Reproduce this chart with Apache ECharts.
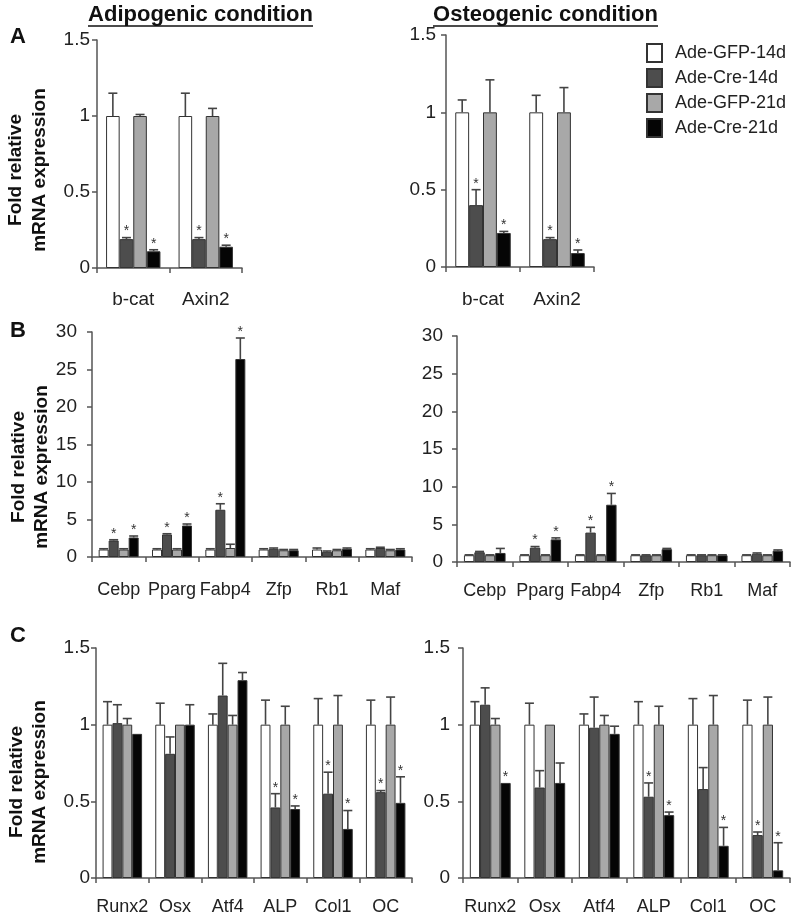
<!DOCTYPE html>
<html><head><meta charset="utf-8">
<script src="https://cdn.jsdelivr.net/npm/echarts@6/dist/echarts.min.js"></script>
<style>html,body{margin:0;padding:0;background:#fff}#c{width:800px;height:924px}</style>
</head><body><div id="c"></div>
<script>
const FONT = '"Liberation Sans", Arial, sans-serif';
const seriesNames = ['Ade-GFP-14d', 'Ade-Cre-14d', 'Ade-GFP-21d', 'Ade-Cre-21d'];
const catsA = ['b-cat', 'Axin2'];
const catsB = ['Cebp', 'Pparg', 'Fabp4', 'Zfp', 'Rb1', 'Maf'];
const catsC = ['Runx2', 'Osx', 'Atf4', 'ALP', 'Col1', 'OC'];
const yTicksA = [0, 0.5, 1, 1.5];
const yTicksB = [0, 5, 10, 15, 20, 25, 30];
const yTicksC = [0, 0.5, 1, 1.5];

// Panel A, adipogenic: rows = GFP-14d, Cre-14d, GFP-21d, Cre-21d
const aAdipoMean = [[1, 1], [0.19, 0.19], [1, 1], [0.11, 0.14]];
const aAdipoSD   = [[0.15, 0.15], [0.01, 0.01], [0.01, 0.05], [0.01, 0.01]];
const aAdipoStar = [[0, 0], [1, 1], [0, 0], [1, 1]];
// Panel A, osteogenic
const aOsteoMean = [[1, 1], [0.40, 0.18], [1, 1], [0.22, 0.09]];
const aOsteoSD   = [[0.08, 0.11], [0.10, 0.01], [0.21, 0.16], [0.01, 0.02]];
const aOsteoStar = [[0, 0], [1, 1], [0, 0], [1, 1]];
// Panel B, adipogenic
const bAdipoMean = [[1, 1, 1, 1, 1, 1], [2.2, 3.0, 6.3, 1.1, 0.7, 1.2], [1, 1, 1.2, 0.9, 0.9, 0.9], [2.6, 4.2, 26.4, 0.9, 1.1, 1.0]];
const bAdipoSD   = [[0.1, 0.1, 0.1, 0.1, 0.2, 0.1], [0.1, 0.1, 0.8, 0.1, 0.1, 0.1], [0.1, 0.1, 0.5, 0.1, 0.1, 0.1], [0.2, 0.2, 2.8, 0.1, 0.1, 0.1]];
const bAdipoStar = [[0, 0, 0, 0, 0, 0], [1, 1, 1, 0, 0, 0], [0, 0, 0, 0, 0, 0], [1, 1, 1, 0, 0, 0]];
// Panel B, osteogenic
const bOsteoMean = [[0.9, 0.9, 0.9, 0.9, 0.9, 0.9], [1.3, 1.9, 3.9, 0.9, 0.9, 1.1], [0.9, 0.9, 0.9, 0.9, 0.9, 0.9], [1.2, 3.0, 7.6, 1.7, 0.9, 1.5]];
const bOsteoSD   = [[0.05, 0.05, 0.05, 0.05, 0.05, 0.05], [0.1, 0.15, 0.7, 0.05, 0.05, 0.1], [0.05, 0.05, 0.05, 0.05, 0.05, 0.05], [0.6, 0.2, 1.5, 0.1, 0.05, 0.1]];
const bOsteoStar = [[0, 0, 0, 0, 0, 0], [0, 1, 1, 0, 0, 0], [0, 0, 0, 0, 0, 0], [0, 1, 1, 0, 0, 0]];
// Panel C, adipogenic
const cAdipoMean = [[1, 1, 1, 1, 1, 1], [1.01, 0.81, 1.19, 0.46, 0.55, 0.56], [1, 1, 1, 1, 1, 1], [0.94, 1.0, 1.29, 0.45, 0.32, 0.49]];
const cAdipoSD   = [[0.15, 0.14, 0.07, 0.16, 0.17, 0.16], [0.12, 0.11, 0.21, 0.09, 0.14, 0.01], [0.04, 0, 0.06, 0.12, 0.19, 0.18], [0, 0.13, 0.05, 0.02, 0.12, 0.17]];
const cAdipoStar = [[0, 0, 0, 0, 0, 0], [0, 0, 0, 1, 1, 1], [0, 0, 0, 0, 0, 0], [0, 0, 0, 1, 1, 1]];
// Panel C, osteogenic
const cOsteoMean = [[1, 1, 1, 1, 1, 1], [1.13, 0.59, 0.98, 0.53, 0.58, 0.28], [1, 1, 1, 1, 1, 1], [0.62, 0.62, 0.94, 0.41, 0.21, 0.05]];
const cOsteoSD   = [[0.15, 0.14, 0.07, 0.15, 0.17, 0.16], [0.11, 0.11, 0.2, 0.09, 0.14, 0.02], [0.04, 0, 0.06, 0.12, 0.19, 0.18], [0, 0.13, 0.05, 0.02, 0.12, 0.18]];
const cOsteoStar = [[0, 0, 0, 0, 0, 0], [0, 0, 0, 1, 0, 1], [0, 0, 0, 0, 0, 0], [1, 0, 0, 1, 1, 1]];

const fills = ['#ffffff', '#4d4d4d', '#a8a8a8', '#050505'];
const GAP = 0.25;

const panels = [
  {cats: catsA, mean: aAdipoMean, sd: aAdipoSD, star: aAdipoStar, ticks: yTicksA, grid: {left: 97, top: 40, width: 145, height: 228}, lm: 7, cm: 22, cf: 19},
  {cats: catsA, mean: aOsteoMean, sd: aOsteoSD, star: aOsteoStar, ticks: yTicksA, grid: {left: 446, top: 35, width: 148, height: 232}, lm: 10, cm: 23, cf: 19},
  {cats: catsB, mean: bAdipoMean, sd: bAdipoSD, star: bAdipoStar, ticks: yTicksB, grid: {left: 92, top: 332, width: 320, height: 225}, lm: 15, cm: 24, cf: 18},
  {cats: catsB, mean: bOsteoMean, sd: bOsteoSD, star: bOsteoStar, ticks: yTicksB, grid: {left: 457, top: 336, width: 333, height: 226}, lm: 14, cm: 20, cf: 18},
  {cats: catsC, mean: cAdipoMean, sd: cAdipoSD, star: cAdipoStar, ticks: yTicksC, grid: {left: 96, top: 648, width: 316, height: 230}, lm: 6, cm: 20, cf: 18},
  {cats: catsC, mean: cOsteoMean, sd: cOsteoSD, star: cOsteoStar, ticks: yTicksC, grid: {left: 463, top: 648, width: 327, height: 230}, lm: 13, cm: 20, cf: 18}
];

const grids = [], xAxes = [], yAxes = [], series = [];
panels.forEach((p, pi) => {
  grids.push(Object.assign({containLabel: false}, p.grid));
  xAxes.push({
    type: 'category', gridIndex: pi, data: p.cats,
    axisLine: {lineStyle: {color: '#555', width: 1.5}},
    axisTick: {show: true, length: 5, inside: false, lineStyle: {color: '#555', width: 1.5}},
    axisLabel: {margin: p.cm, fontSize: p.cf, color: '#222', fontFamily: FONT, interval: 0}
  });
  yAxes.push({
    type: 'value', gridIndex: pi, min: p.ticks[0], max: p.ticks[p.ticks.length - 1],
    interval: p.ticks[1] - p.ticks[0],
    axisLine: {show: true, lineStyle: {color: '#555', width: 1.5}},
    axisTick: {show: true, length: 5, lineStyle: {color: '#555', width: 1.5}},
    splitLine: {show: false},
    axisLabel: {margin: p.lm, fontSize: 19, color: '#222', fontFamily: FONT}
  });
  for (let s = 0; s < 4; s++) {
    series.push({
      type: 'bar', name: seriesNames[s], xAxisIndex: pi, yAxisIndex: pi,
      data: p.mean[s], barGap: '0%', barCategoryGap: (GAP * 100) + '%',
      itemStyle: {color: fills[s], borderColor: '#333', borderWidth: 1},
      emphasis: {disabled: true}, silent: true
    });
  }
  const errData = [];
  for (let s = 0; s < 4; s++) {
    for (let c = 0; c < p.cats.length; c++) {
      errData.push([c, s, p.mean[s][c], p.mean[s][c] + p.sd[s][c], p.star[s][c]]);
    }
  }
  series.push({
    type: 'custom', xAxisIndex: pi, yAxisIndex: pi, z: 5, silent: true,
    encode: {x: 0, y: 3},
    data: errData,
    renderItem: function (params, api) {
      const ci = api.value(0), s = api.value(1), v = api.value(2), t = api.value(3), st = api.value(4);
      const p0 = api.coord([ci, v]);
      const p1 = api.coord([ci, t]);
      const band = api.size([1, 0])[0];
      const inner = band * (1 - GAP);
      const bw = inner / 4;
      const x = p0[0] - inner / 2 + bw * (s + 0.5);
      const children = [];
      if (t - v > 1e-9) {
        children.push({type: 'line', shape: {x1: x, y1: p0[1], x2: x, y2: p1[1]}, style: {stroke: '#444', lineWidth: 1.6}});
        children.push({type: 'line', shape: {x1: x - 4.5, y1: p1[1], x2: x + 4.5, y2: p1[1]}, style: {stroke: '#444', lineWidth: 1.6}});
      }
      if (st) {
        children.push({type: 'text', x: x, y: p1[1] + 1, style: {text: '*', fill: '#333', font: '14px ' + FONT, align: 'center', verticalAlign: 'bottom'}});
      }
      return {type: 'group', children: children};
    }
  });
});

const yName = 'Fold relative\nmRNA expression';
const graphic = [
  {type: 'text', x: 200.5, y: 15, style: {text: 'Adipogenic condition', font: 'bold 22px ' + FONT, fill: '#111', align: 'center', verticalAlign: 'middle'}},
  {type: 'line', shape: {x1: 88, y1: 26, x2: 313, y2: 26}, style: {stroke: '#111', lineWidth: 1.5}},
  {type: 'text', x: 545.5, y: 15, style: {text: 'Osteogenic condition', font: 'bold 22px ' + FONT, fill: '#111', align: 'center', verticalAlign: 'middle'}},
  {type: 'line', shape: {x1: 433, y1: 26, x2: 658, y2: 26}, style: {stroke: '#111', lineWidth: 1.5}},
  {type: 'text', x: 18, y: 37, style: {text: 'A', font: 'bold 22px ' + FONT, fill: '#111', align: 'center', verticalAlign: 'middle'}},
  {type: 'text', x: 18, y: 331, style: {text: 'B', font: 'bold 22px ' + FONT, fill: '#111', align: 'center', verticalAlign: 'middle'}},
  {type: 'text', x: 18, y: 636, style: {text: 'C', font: 'bold 22px ' + FONT, fill: '#111', align: 'center', verticalAlign: 'middle'}},
  {type: 'text', x: 27.5, y: 170, rotation: Math.PI / 2, style: {text: yName, font: 'bold 19px ' + FONT, lineHeight: 24, fill: '#111', align: 'center', verticalAlign: 'middle'}},
  {type: 'text', x: 30, y: 467, rotation: Math.PI / 2, style: {text: yName, font: 'bold 19px ' + FONT, lineHeight: 23, fill: '#111', align: 'center', verticalAlign: 'middle'}},
  {type: 'text', x: 28.5, y: 782, rotation: Math.PI / 2, style: {text: yName, font: 'bold 19px ' + FONT, lineHeight: 23, fill: '#111', align: 'center', verticalAlign: 'middle'}}
];

const chart = echarts.init(document.getElementById('c'), null, {renderer: 'canvas'});
chart.setOption({
  animation: false,
  backgroundColor: '#fff',
  textStyle: {fontFamily: FONT},
  grid: grids, xAxis: xAxes, yAxis: yAxes, series: series,
  legend: {
    data: seriesNames, orient: 'vertical', left: 641, top: 38,
    itemWidth: 15, itemHeight: 18, itemGap: 5, icon: 'rect',
    selectedMode: false,
    textStyle: {fontSize: 18, color: '#222', fontFamily: FONT, padding: [0, 0, 0, 8]}
  },
  graphic: graphic
});
</script>
</body></html>
